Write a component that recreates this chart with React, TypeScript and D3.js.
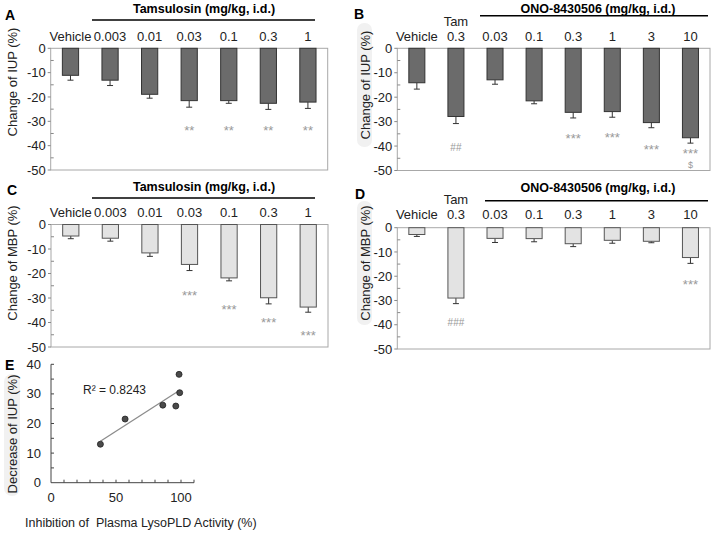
import React from "react";
import * as d3 from "d3";

// category labels
const tamDoses = ["Vehicle", "0.003", "0.01", "0.03", "0.1", "0.3", "1"];
const onoDoses = ["Vehicle", "0.3", "0.03", "0.1", "0.3", "1", "3", "10"];
const onoTop = ["", "Tam", "", "", "", "", "", ""];

// A: IUP change, tamsulosin
const iupTam = [-11.1, -13.1, -18.9, -21.5, -21.5, -22.6, -22.1];
const iupTamErr = [2.0, 2.2, 1.6, 2.7, 1.1, 2.5, 2.6];
const iupTamMarkIdx = [3, 4, 5, 6];
const iupTamMarkText = ["**", "**", "**", "**"];
const iupTamMarkAt = [-32.6, -32.6, -32.6, -32.6];

// B: IUP change, ONO-8430506
const iupOno = [-14.1, -27.9, -12.9, -21.5, -26.2, -25.9, -30.4, -36.6];
const iupOnoErr = [2.6, 2.9, 1.8, 1.2, 2.3, 2.3, 2.1, 2.2];
const iupOnoMarkIdx = [1, 4, 5, 6, 7, 7];
const iupOnoMarkText = ["##", "***", "***", "***", "***", "$"];
const iupOnoMarkAt = [-40.4, -35.6, -35.3, -40.1, -41.8, -47.4];

// C: MBP change, tamsulosin
const mbpTam = [-4.7, -5.6, -11.6, -16.3, -21.8, -29.9, -33.7];
const mbpTamErr = [1.1, 1.2, 1.4, 2.5, 1.2, 2.5, 2.1];
const mbpTamMarkIdx = [3, 4, 5, 6];
const mbpTamMarkText = ["***", "***", "***", "***"];
const mbpTamMarkAt = [-27.9, -33.3, -38.8, -44.2];

// D: MBP change, ONO-8430506
const mbpOno = [-2.8, -29.0, -4.4, -4.5, -6.6, -5.2, -5.6, -12.3];
const mbpOnoErr = [0.8, 2.3, 1.7, 1.3, 1.2, 1.2, 0.6, 2.4];
const mbpOnoMarkIdx = [1, 7];
const mbpOnoMarkText = ["###", "***"];
const mbpOnoMarkAt = [-38.7, -22.2];

const barTicks = [0, -10, -20, -30, -40, -50];

// E: correlation
const lysoInhibition = [38, 57, 86, 96, 99, 98.5];
const iupDecrease = [13.0, 21.5, 26.2, 25.9, 30.4, 36.6];
const eXTickLabels = [0, 50, 100];
const eYTickLabels = [0, 10, 20, 30, 40];

const FONT = "'Liberation Sans', Arial, sans-serif";

type PanelProps = {
  letter: string;
  letterPos: [number, number];
  title: string;
  titleX: number;
  titleY: number;
  line: [number, number, number];
  cats: string[];
  tops?: string[];
  catY: number;
  topY?: number;
  values: number[];
  errors: number[];
  markIdx: number[];
  markText: string[];
  markAt: number[];
  box: [number, number, number, number];
  fill: string;
  stroke: string;
  yLabel: string;
  yLabelPos: [number, number];
  labelBg?: boolean;
};

function BarPanel(p: PanelProps) {
  const [x0, x1, y0, y1] = p.box;
  const x = d3.scaleBand<number>().domain(d3.range(p.cats.length)).range([x0, x1]);
  const y = d3.scaleLinear().domain([0, -50]).range([y0, y1]);
  const bw = x.bandwidth() * 0.41;
  const cx = (i: number) => (x(i) as number) + x.bandwidth() / 2;
  const minor = d3.range(-5, -50, -10);

  return (
    <g fontFamily={FONT}>
      {p.labelBg && (
        <rect x={p.yLabelPos[0] - 8} y={p.yLabelPos[1] - 62} width={15} height={124} rx={7} fill="#f1f1f1" />
      )}
      <text
        transform={`translate(${p.yLabelPos[0]},${p.yLabelPos[1]}) rotate(-90)`}
        textAnchor="middle"
        dominantBaseline="central"
        fontSize={13}
        fill="#222"
      >
        {p.yLabel}
      </text>
      <text x={p.letterPos[0]} y={p.letterPos[1]} fontSize={14} fontWeight="bold">
        {p.letter}
      </text>
      <text x={p.titleX} y={p.titleY} textAnchor="middle" fontSize={12.5} fontWeight="bold">
        {p.title}
      </text>
      <line x1={p.line[0]} x2={p.line[1]} y1={p.line[2]} y2={p.line[2]} stroke="#000" strokeWidth={1.5} />

      {p.cats.map((c, i) => (
        <text key={"c" + i} x={cx(i)} y={p.catY} textAnchor="middle" fontSize={13} fill="#222">
          {c}
        </text>
      ))}
      {p.tops &&
        p.tops.map((t, i) =>
          t ? (
            <text key={"t" + i} x={cx(i)} y={p.topY} textAnchor="middle" fontSize={13} fill="#222">
              {t}
            </text>
          ) : null
        )}

      <rect x={x0} y={y0} width={x1 - x0} height={y1 - y0} fill="none" stroke="#a8a8a8" />
      {barTicks.map((t) => (
        <g key={"yt" + t}>
          <line x1={x0 - 3} x2={x0} y1={y(t)} y2={y(t)} stroke="#888" />
          <text x={x0 - 5} y={y(t)} dy="0.35em" textAnchor="end" fontSize={13} fill="#222">
            {t}
          </text>
        </g>
      ))}
      {minor.map((t) => (
        <line key={"mt" + t} x1={x0} x2={x0 + 3} y1={y(t)} y2={y(t)} stroke="#888" />
      ))}

      {p.values.map((v, i) => (
        <g key={"b" + i}>
          <line x1={cx(i)} x2={cx(i)} y1={y(v)} y2={y(v - p.errors[i])} stroke="#333" />
          <line
            x1={cx(i) - 3}
            x2={cx(i) + 3}
            y1={y(v - p.errors[i])}
            y2={y(v - p.errors[i])}
            stroke="#333"
          />
          <rect
            x={cx(i) - bw / 2}
            y={y(0)}
            width={bw}
            height={y(v) - y(0)}
            fill={p.fill}
            stroke={p.stroke}
          />
        </g>
      ))}

      {p.markIdx.map((idx, k) => {
        const txt = p.markText[k];
        const star = txt.startsWith("*");
        const dollar = txt === "$";
        return (
          <text
            key={"m" + k}
            x={cx(idx)}
            y={y(p.markAt[k]) + (star ? 7.5 : 4)}
            textAnchor="middle"
            fontSize={star ? 13 : dollar ? 9 : 10}
            fill="#999"
          >
            {txt}
          </text>
        );
      })}
    </g>
  );
}

function Scatter() {
  const x = d3.scaleLinear().domain([0, 110]).range([51, 194]);
  const y = d3.scaleLinear().domain([0, 40]).range([482.7, 364.3]);
  const mx = d3.mean(lysoInhibition) as number;
  const my = d3.mean(iupDecrease) as number;
  const sxy = d3.sum(lysoInhibition, (v, i) => (v - mx) * (iupDecrease[i] - my));
  const sxx = d3.sum(lysoInhibition, (v) => (v - mx) * (v - mx));
  const slope = sxy / sxx;
  const icpt = my - slope * mx;
  const lx0 = d3.min(lysoInhibition) as number;
  const lx1 = d3.max(lysoInhibition) as number;

  return (
    <g fontFamily={FONT}>
      <rect x={4} y={374} width={16} height={122} rx={8} fill="#f1f1f1" />
      <text
        transform={`translate(12,434) rotate(-90)`}
        textAnchor="middle"
        dominantBaseline="central"
        fontSize={13}
        fill="#222"
      >
        Decrease of IUP (%)
      </text>
      <text x={5} y={369.5} fontSize={14} fontWeight="bold">
        E
      </text>
      <line x1={x(0)} x2={x(0)} y1={y(0)} y2={y(40)} stroke="#444" />
      <line x1={x(0)} x2={x(110)} y1={y(0)} y2={y(0)} stroke="#444" />
      {d3.range(5, 41, 5).map((t) => (
        <line key={"ey" + t} x1={x(0)} x2={x(0) + 3} y1={y(t)} y2={y(t)} stroke="#444" />
      ))}
      {d3.range(10, 111, 10).map((t) => (
        <line key={"ex" + t} x1={x(t)} x2={x(t)} y1={y(0)} y2={y(0) - 3} stroke="#444" />
      ))}
      {eYTickLabels.map((t) => (
        <text key={"eyl" + t} x={x(0) - 10} y={y(t)} dy="0.35em" textAnchor="end" fontSize={13} fill="#222">
          {t}
        </text>
      ))}
      {eXTickLabels.map((t) => (
        <text key={"exl" + t} x={x(t)} y={501.5} textAnchor="middle" fontSize={13} fill="#222">
          {t}
        </text>
      ))}
      <text x={25} y={527} fontSize={12.5} fill="#222" style={{ whiteSpace: "pre" }}>
        {"Inhibition of  Plasma LysoPLD Activity (%)"}
      </text>
      <line
        x1={x(lx0)}
        x2={x(lx1)}
        y1={y(icpt + slope * lx0)}
        y2={y(icpt + slope * lx1)}
        stroke="#8c8c8c"
        strokeWidth={1.3}
      />
      {lysoInhibition.map((v, i) => (
        <circle key={"p" + i} cx={x(v)} cy={y(iupDecrease[i])} r={3} fill="#4a4a4a" stroke="#222" strokeWidth={0.8} />
      ))}
      <text x={83} y={393.5} fontSize={12} fill="#222">
        R² = 0.8243
      </text>
    </g>
  );
}

export default function App() {
  return (
    <svg width={718} height={533} style={{ position: "absolute", left: 0, top: 0, background: "#fff" }}>
      <BarPanel
        letter="A"
        letterPos={[5, 19.5]}
        title="Tamsulosin (mg/kg, i.d.)"
        titleX={204}
        titleY={12.7}
        line={[92, 315, 20]}
        cats={tamDoses}
        catY={40.7}
        values={iupTam}
        errors={iupTamErr}
        markIdx={iupTamMarkIdx}
        markText={iupTamMarkText}
        markAt={iupTamMarkAt}
        box={[50.7, 327.7, 48.3, 170]}
        fill="#6b6b6b"
        stroke="#333"
        yLabel="Change of IUP (%)"
        yLabelPos={[12, 82]}
      />
      <BarPanel
        letter="B"
        letterPos={[354, 19.3]}
        title="ONO-8430506 (mg/kg, i.d.)"
        titleX={598}
        titleY={12.8}
        line={[480, 708, 15.7]}
        cats={onoDoses}
        tops={onoTop}
        catY={40.5}
        topY={25.5}
        values={iupOno}
        errors={iupOnoErr}
        markIdx={iupOnoMarkIdx}
        markText={iupOnoMarkText}
        markAt={iupOnoMarkAt}
        box={[397.3, 710, 48.3, 170.5]}
        fill="#6b6b6b"
        stroke="#333"
        yLabel="Change of IUP (%)"
        yLabelPos={[365, 85]}
        labelBg
      />
      <BarPanel
        letter="C"
        letterPos={[7, 194.7]}
        title="Tamsulosin (mg/kg, i.d.)"
        titleX={204}
        titleY={190.7}
        line={[92, 315, 198]}
        cats={tamDoses}
        catY={217.3}
        values={mbpTam}
        errors={mbpTamErr}
        markIdx={mbpTamMarkIdx}
        markText={mbpTamMarkText}
        markAt={mbpTamMarkAt}
        box={[51, 328, 224.5, 347]}
        fill="#e3e3e3"
        stroke="#555"
        yLabel="Change of MBP (%)"
        yLabelPos={[12, 263]}
      />
      <BarPanel
        letter="D"
        letterPos={[355, 198.7]}
        title="ONO-8430506 (mg/kg, i.d.)"
        titleX={598}
        titleY={192}
        line={[485, 708, 200.7]}
        cats={onoDoses}
        tops={onoTop}
        catY={219}
        topY={204}
        values={mbpOno}
        errors={mbpOnoErr}
        markIdx={mbpOnoMarkIdx}
        markText={mbpOnoMarkText}
        markAt={mbpOnoMarkAt}
        box={[397.3, 710, 227.7, 349]}
        fill="#e3e3e3"
        stroke="#555"
        yLabel="Change of MBP (%)"
        yLabelPos={[365, 263]}
        labelBg
      />
      <Scatter />
    </svg>
  );
}
